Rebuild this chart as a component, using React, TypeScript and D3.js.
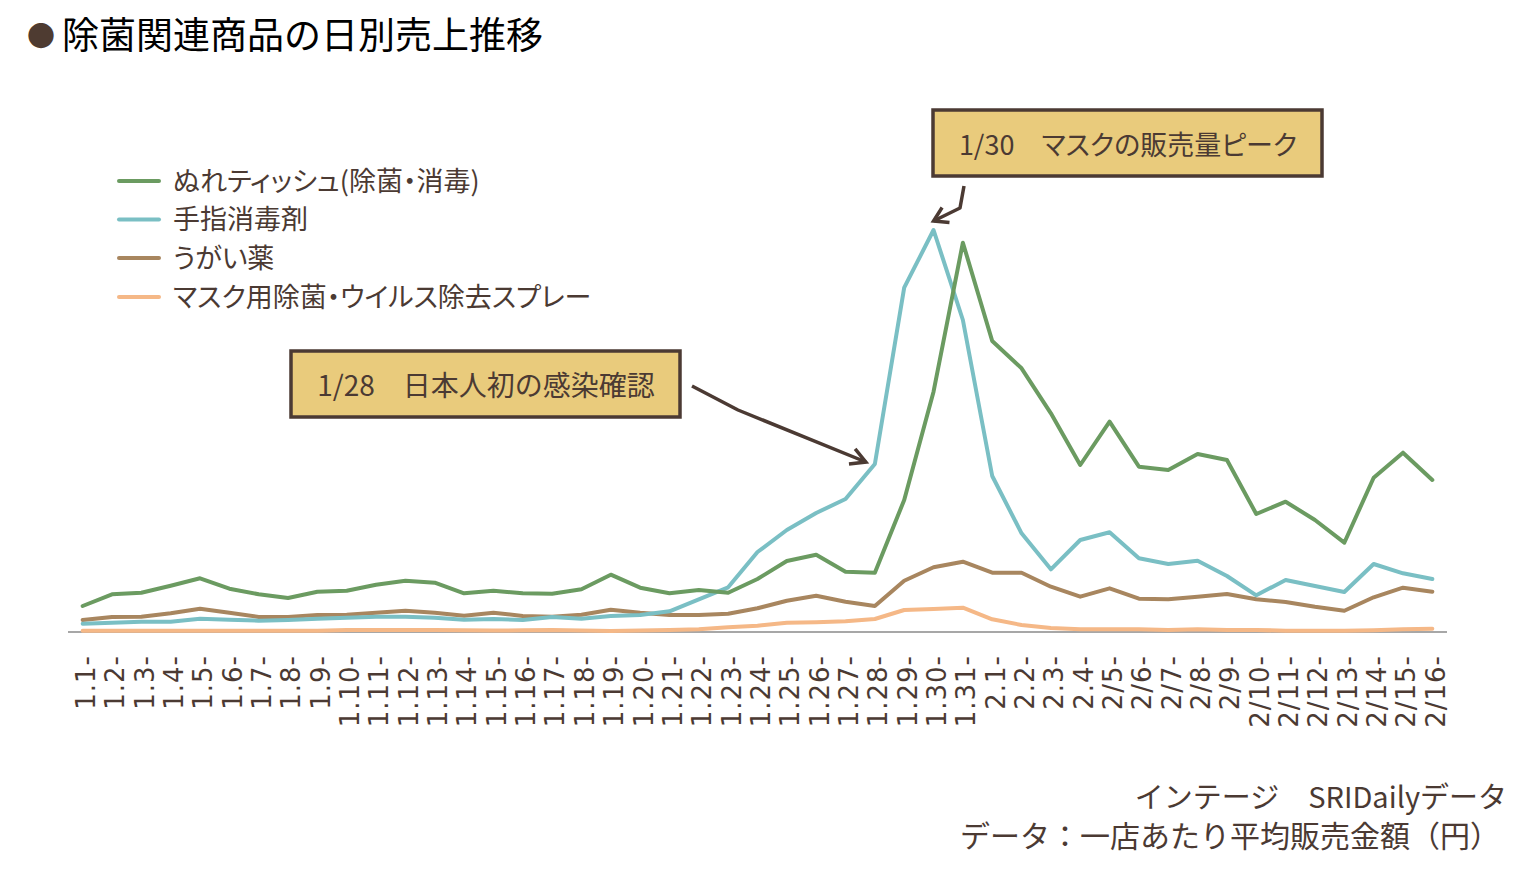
import React from "react";
import * as d3 from "d3";

const categories = [
  "1.1", "1.2", "1.3", "1.4", "1.5", "1.6", "1.7", "1.8", "1.9", "1.10",
  "1.11", "1.12", "1.13", "1.14", "1.15", "1.16", "1.17", "1.18", "1.19", "1.20",
  "1.21", "1.22", "1.23", "1.24", "1.25", "1.26", "1.27", "1.28", "1.29", "1.30",
  "1.31", "2.1", "2.2", "2.3", "2.4", "2/5", "2/6", "2/7", "2/8", "2/9",
  "2/10", "2/11", "2/12", "2/13", "2/14", "2/15", "2/16",
];

const wetTissue = [
  260, 377, 393, 463, 537, 433, 377, 340, 403, 413,
  473, 513, 493, 387, 413, 387, 383, 427, 573, 443,
  387, 420, 393, 530, 710, 773, 603, 593, 1320, 2403,
  3893, 2910, 2637, 2187, 1670, 2103, 1653, 1620, 1780, 1720,
  1180, 1303, 1120, 893, 1543, 1793, 1520,
];

const handSanitizer = [
  83, 93, 103, 103, 133, 123, 113, 120, 133, 143,
  153, 153, 143, 123, 130, 120, 150, 133, 160, 170,
  207, 327, 447, 800, 1020, 1190, 1330, 1680, 3443, 4020,
  3120, 1560, 987, 627, 920, 997, 737, 680, 713, 560,
  367, 520, 460, 400, 680, 587, 530,
];

const gargle = [
  120, 150, 153, 187, 233, 193, 150, 150, 170, 173,
  193, 213, 193, 163, 193, 160, 153, 173, 223, 193,
  170, 170, 183, 237, 313, 363, 303, 260, 513, 647,
  703, 593, 593, 453, 353, 437, 333, 327, 353, 380,
  327, 300, 253, 213, 347, 443, 403,
];

const maskSpray = [
  13, 13, 13, 13, 13, 13, 13, 13, 13, 20,
  20, 20, 20, 17, 15, 17, 20, 15, 10, 15,
  20, 27, 47, 63, 93, 97, 107, 130, 220, 230,
  243, 127, 70, 40, 27, 27, 27, 20, 27, 20,
  20, 13, 13, 13, 17, 27, 33,
];

const seriesNames = [
  "ぬれティッシュ(除菌・消毒)",
  "手指消毒剤",
  "うがい薬",
  "マスク用除菌・ウイルス除去スプレー",
];
const seriesColors = ["#6b9b61", "#7abfc4", "#a8865f", "#f5b887"];
const seriesData = [wetTissue, handSanitizer, gargle, maskSpray];

const titleText = "除菌関連商品の日別売上推移";
const note1 = "1/28　日本人初の感染確認";
const note2 = "1/30　マスクの販売量ピーク";
const source1 = "インテージ　SRIDailyデータ";
const source2 = "データ：一店あたり平均販売金額（円）";

const DARK = "#4b3a33";
const JP = "'Noto Sans CJK JP', 'Noto Sans', sans-serif";

function arrowHead(tip: [number, number], from: [number, number], len = 17, ang = 0.5) {
  const a = Math.atan2(from[1] - tip[1], from[0] - tip[0]);
  const p1 = [tip[0] + len * Math.cos(a + ang), tip[1] + len * Math.sin(a + ang)];
  const p2 = [tip[0] + len * Math.cos(a - ang), tip[1] + len * Math.sin(a - ang)];
  return `M${p1[0]},${p1[1]} L${tip[0]},${tip[1]} L${p2[0]},${p2[1]}`;
}

export default function App() {
  const x = d3.scalePoint<string>().domain(categories).range([68, 1447]).padding(0.5);
  const y = d3.scaleLinear().domain([0, 4000]).range([632, 232]);
  const line = d3
    .line<number>()
    .x((_, i) => x(categories[i]) as number)
    .y((d) => y(d));

  // annotation anchors tied to data
  const tip1: [number, number] = [(x("1.28") as number) - 9, y(handSanitizer[27]) - 2];
  const mid1: [number, number] = [738, 410];
  const start1: [number, number] = [692, 386];
  const tip2: [number, number] = [(x("1.30") as number), y(handSanitizer[29]) - 9];
  const mid2: [number, number] = [960, 208];
  const start2: [number, number] = [964, 186];

  const legendY = [181, 219.5, 258, 297];

  return (
    <svg
      width={1527}
      height={874}
      style={{ position: "absolute", left: 0, top: 0, background: "#fff" }}
    >
      {/* title */}
      <text x={27} y={49} fontFamily={JP} fontSize={37} fill="#000">
        <tspan fill="#4e3b31" fontSize={28} dy={-2}>●</tspan>
        <tspan dx={7} dy={2}>{titleText}</tspan>
      </text>

      {/* axis line */}
      <line x1={68} x2={1447} y1={y(0)} y2={y(0)} stroke="#8a8a8a" strokeWidth={1.5} />

      {/* series */}
      {seriesData
        .slice()
        .reverse()
        .map((d, ri) => {
          const i = seriesData.length - 1 - ri;
          return (
            <path
              key={i}
              d={line(d) || ""}
              fill="none"
              stroke={seriesColors[i]}
              strokeWidth={4}
              strokeLinejoin="round"
              strokeLinecap="round"
            />
          );
        })}

      {/* category labels */}
      {categories.map((c) => (
        <text
          key={c}
          transform={`translate(${(x(c) as number) + 3},655) rotate(-90)`}
          textAnchor="end"
          dy="0.36em"
          fontFamily="'DejaVu Sans', sans-serif"
          fontSize={26}
          letterSpacing={1}
          fill={DARK}
        >
          {c + "-"}
        </text>
      ))}

      {/* legend */}
      {seriesNames.map((n, i) => (
        <g key={n}>
          <line
            x1={119}
            x2={159}
            y1={legendY[i]}
            y2={legendY[i]}
            stroke={seriesColors[i]}
            strokeWidth={4}
            strokeLinecap="round"
          />
          <text
            x={173}
            y={legendY[i] - 2}
            dominantBaseline="central"
            fontFamily={JP}
            fontSize={27}
            style={{ fontFeatureSettings: "'palt'" }}
            fill={DARK}
          >
            {n}
          </text>
        </g>
      ))}

      {/* annotation 1 */}
      <rect x={291} y={351} width={389} height={66} fill="#e9cb7c" stroke={DARK} strokeWidth={3.5} />
      <text x={486} y={384} textAnchor="middle" dominantBaseline="central" fontFamily={JP} fontSize={28} fill={DARK}>
        {note1}
      </text>
      <path
        d={`M${start1[0]},${start1[1]} L${mid1[0]},${mid1[1]} L${tip1[0]},${tip1[1]}`}
        fill="none"
        stroke={DARK}
        strokeWidth={3.5}
        strokeLinejoin="round"
      />
      <path d={arrowHead(tip1, mid1)} fill="none" stroke={DARK} strokeWidth={3.5} strokeLinejoin="miter" />

      {/* annotation 2 */}
      <rect x={933} y={110} width={389} height={66} fill="#e9cb7c" stroke={DARK} strokeWidth={3.5} />
      <text
        x={1128}
        y={143}
        textAnchor="middle"
        dominantBaseline="central"
        fontFamily={JP}
        fontSize={27}
        style={{ fontFeatureSettings: "'palt'" }}
        fill={DARK}
      >
        {note2}
      </text>
      <path
        d={`M${start2[0]},${start2[1]} L${mid2[0]},${mid2[1]} L${tip2[0]},${tip2[1]}`}
        fill="none"
        stroke={DARK}
        strokeWidth={3.5}
        strokeLinejoin="round"
      />
      <path d={arrowHead(tip2, mid2, 16, 0.55)} fill="none" stroke={DARK} strokeWidth={3.5} />

      {/* source */}
      <text x={1507} y={795} textAnchor="end" dominantBaseline="central" fontFamily={JP} fontSize={29} fill={DARK}>
        {source1}
      </text>
      <text x={1500} y={834} textAnchor="end" dominantBaseline="central" fontFamily={JP} fontSize={30} fill={DARK}>
        {source2}
      </text>
    </svg>
  );
}
